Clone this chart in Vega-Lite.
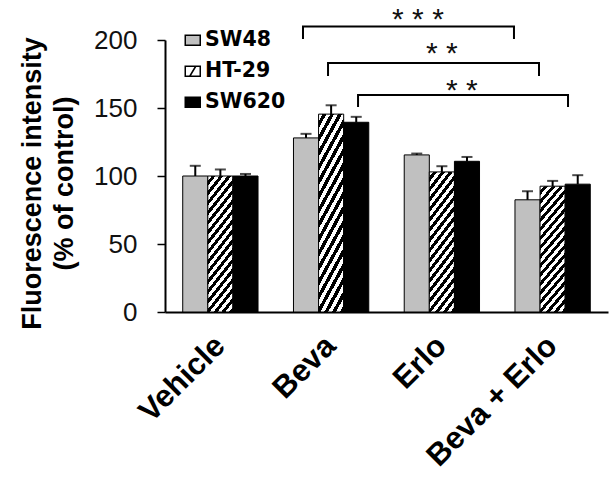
{
  "$schema": "https://vega.github.io/schema/vega-lite/v6.json",
  "width": 443,
  "height": 272,
  "autosize": "none",
  "padding": {"left": 165, "top": 40, "right": 6, "bottom": 167},
  "background": "white",
  "config": {
    "view": {"stroke": null},
    "font": "Liberation Sans"
  },
  "resolve": {"scale": {"x": "independent"}},
  "layer": [
    {
      "data": {
        "values": [
          {"category": "Vehicle", "series": "SW48", "value": 100, "upper": 107.5},
          {"category": "Vehicle", "series": "HT-29", "value": 100, "upper": 104.8},
          {"category": "Vehicle", "series": "SW620", "value": 100, "upper": 101.5},
          {"category": "Beva", "series": "SW48", "value": 128, "upper": 131},
          {"category": "Beva", "series": "HT-29", "value": 145.5, "upper": 152},
          {"category": "Beva", "series": "SW620", "value": 139.5, "upper": 143.5},
          {"category": "Erlo", "series": "SW48", "value": 115.5, "upper": 116.5},
          {"category": "Erlo", "series": "HT-29", "value": 103, "upper": 107.2},
          {"category": "Erlo", "series": "SW620", "value": 110.8, "upper": 114},
          {"category": "Beva + Erlo", "series": "SW48", "value": 82.5, "upper": 88.8},
          {"category": "Beva + Erlo", "series": "HT-29", "value": 92.5, "upper": 96.4},
          {"category": "Beva + Erlo", "series": "SW620", "value": 94, "upper": 100.6}
        ]
      },
      "encoding": {
        "x": {
          "field": "category", "type": "nominal",
          "sort": ["Vehicle", "Beva", "Erlo", "Beva + Erlo"],
          "scale": {"paddingInner": 0.32, "paddingOuter": 0.16},
          "axis": {
            "title": null,
            "labelAngle": -45,
            "labelAlign": "right",
            "labelBaseline": "middle",
            "labelFont": "Liberation Sans",
            "labelFontWeight": "bold",
            "labelFontSize": 31,
            "labelColor": "#000000",
            "labelPadding": 29,
            "ticks": false,
            "domainColor": "#000000",
            "domainWidth": 2
          }
        },
        "xOffset": {"field": "series", "type": "nominal", "sort": ["SW48", "HT-29", "SW620"], "scale": {"paddingInner": 0, "paddingOuter": 0}}
      },
      "layer": [
        {
          "mark": {"type": "bar", "stroke": "#000000", "strokeWidth": 1},
          "encoding": {
            "y": {
              "field": "value", "type": "quantitative",
              "scale": {"domain": [0, 200], "nice": false},
              "axis": {
                "title": ["Fluorescence intensity", "(% of control)"],
                "titleFont": "Liberation Sans",
                "titleFontWeight": "bold",
                "titleFontSize": 27,
                "titleLineHeight": 32,
                "titleColor": "#000000",
                "titleAngle": -90,
                "titleAlign": "center",
                "titleBaseline": "middle",
                "titleX": -133,
                "titleY": 143,
                "values": [0, 50, 100, 150, 200],
                "grid": false,
                "labelFont": "Liberation Sans",
                "labelFontSize": 26,
                "labelColor": "#111111",
                "labelPadding": 20,
                "tickSize": 8,
                "tickWidth": 1.5,
                "tickColor": "#000000",
                "domainColor": "#000000",
                "domainWidth": 2
              }
            },
            "fill": {
              "field": "series", "type": "nominal",
              "scale": {"domain": ["SW48", "HT-29", "SW620"], "range": ["#c0c0c0", "#ffffff", "#000000"]},
              "legend": {
                "title": null,
                "orient": "none",
                "legendX": 17.5,
                "legendY": -10,
                "padding": 0,
                "symbolType": "M-1.5,-1H1.5V1H-1.5Z",
                "symbolSize": 100,
                "symbolStrokeColor": "#000000",
                "symbolStrokeWidth": 1.5,
                "labelFont": "DejaVu Sans",
                "labelFontWeight": "bold",
                "labelFontSize": 20.5,
                "labelColor": "#000000",
                "labelOffset": 2,
                "rowPadding": 10,
                "encode": {
                  "symbols": {
                    "update": {
                      "shape": {"signal": "datum.label === 'HT-29' ? 'M-1.5,-1H1.5V1H-1.5Z M-0.6,1L0.6,-1' : 'M-1.5,-1H1.5V1H-1.5Z'"},
                      "stroke": {"value": "#000000"},
                      "strokeWidth": {"value": 1.5}
                    }
                  }
                }
              },
              "condition": {
                "test": "datum.series === 'HT-29'",
                "value": {
                  "gradient": "linear", "x1": 0, "y1": 0, "x2": 0.2725, "y2": 1.1696,
                  "stops": [
                    {"offset": 0, "color": "#ffffff"}, {"offset": 0.0294, "color": "#ffffff"}, {"offset": 0.0294, "color": "#000000"}, {"offset": 0.0588, "color": "#000000"},
                    {"offset": 0.0588, "color": "#ffffff"}, {"offset": 0.0882, "color": "#ffffff"}, {"offset": 0.0882, "color": "#000000"}, {"offset": 0.1176, "color": "#000000"},
                    {"offset": 0.1176, "color": "#ffffff"}, {"offset": 0.1471, "color": "#ffffff"}, {"offset": 0.1471, "color": "#000000"}, {"offset": 0.1765, "color": "#000000"},
                    {"offset": 0.1765, "color": "#ffffff"}, {"offset": 0.2059, "color": "#ffffff"}, {"offset": 0.2059, "color": "#000000"}, {"offset": 0.2353, "color": "#000000"},
                    {"offset": 0.2353, "color": "#ffffff"}, {"offset": 0.2647, "color": "#ffffff"}, {"offset": 0.2647, "color": "#000000"}, {"offset": 0.2941, "color": "#000000"},
                    {"offset": 0.2941, "color": "#ffffff"}, {"offset": 0.3235, "color": "#ffffff"}, {"offset": 0.3235, "color": "#000000"}, {"offset": 0.3529, "color": "#000000"},
                    {"offset": 0.3529, "color": "#ffffff"}, {"offset": 0.3824, "color": "#ffffff"}, {"offset": 0.3824, "color": "#000000"}, {"offset": 0.4118, "color": "#000000"},
                    {"offset": 0.4118, "color": "#ffffff"}, {"offset": 0.4412, "color": "#ffffff"}, {"offset": 0.4412, "color": "#000000"}, {"offset": 0.4706, "color": "#000000"},
                    {"offset": 0.4706, "color": "#ffffff"}, {"offset": 0.5, "color": "#ffffff"}, {"offset": 0.5, "color": "#000000"}, {"offset": 0.5294, "color": "#000000"},
                    {"offset": 0.5294, "color": "#ffffff"}, {"offset": 0.5588, "color": "#ffffff"}, {"offset": 0.5588, "color": "#000000"}, {"offset": 0.5882, "color": "#000000"},
                    {"offset": 0.5882, "color": "#ffffff"}, {"offset": 0.6176, "color": "#ffffff"}, {"offset": 0.6176, "color": "#000000"}, {"offset": 0.6471, "color": "#000000"},
                    {"offset": 0.6471, "color": "#ffffff"}, {"offset": 0.6765, "color": "#ffffff"}, {"offset": 0.6765, "color": "#000000"}, {"offset": 0.7059, "color": "#000000"},
                    {"offset": 0.7059, "color": "#ffffff"}, {"offset": 0.7353, "color": "#ffffff"}, {"offset": 0.7353, "color": "#000000"}, {"offset": 0.7647, "color": "#000000"},
                    {"offset": 0.7647, "color": "#ffffff"}, {"offset": 0.7941, "color": "#ffffff"}, {"offset": 0.7941, "color": "#000000"}, {"offset": 0.8235, "color": "#000000"},
                    {"offset": 0.8235, "color": "#ffffff"}, {"offset": 0.8529, "color": "#ffffff"}, {"offset": 0.8529, "color": "#000000"}, {"offset": 0.8824, "color": "#000000"},
                    {"offset": 0.8824, "color": "#ffffff"}, {"offset": 0.9118, "color": "#ffffff"}, {"offset": 0.9118, "color": "#000000"}, {"offset": 0.9412, "color": "#000000"},
                    {"offset": 0.9412, "color": "#ffffff"}, {"offset": 0.9706, "color": "#ffffff"}, {"offset": 0.9706, "color": "#000000"}, {"offset": 1, "color": "#000000"}
                  ]
                }
              }
            }
          }
        },
        {
          "mark": {"type": "rule", "color": "#000000", "strokeWidth": 2},
          "encoding": {
            "y": {"field": "value", "type": "quantitative", "scale": {"domain": [0, 200], "nice": false}},
            "y2": {"field": "upper"}
          }
        },
        {
          "mark": {"type": "tick", "color": "#000000", "size": 11, "thickness": 2},
          "encoding": {
            "y": {"field": "upper", "type": "quantitative", "scale": {"domain": [0, 200], "nice": false}}
          }
        }
      ]
    },
    {
      "data": {
        "values": [
          {"id": 1, "ord": 1, "bx": 1.246, "by": 200.8},
          {"id": 1, "ord": 2, "bx": 1.246, "by": 209.9},
          {"id": 1, "ord": 3, "bx": 3.151, "by": 209.9},
          {"id": 1, "ord": 4, "bx": 3.151, "by": 200.8},
          {"id": 2, "ord": 1, "bx": 1.472, "by": 173.5},
          {"id": 2, "ord": 2, "bx": 1.472, "by": 183},
          {"id": 2, "ord": 3, "bx": 3.377, "by": 183},
          {"id": 2, "ord": 4, "bx": 3.377, "by": 173.5},
          {"id": 3, "ord": 1, "bx": 1.743, "by": 150.7},
          {"id": 3, "ord": 2, "bx": 1.743, "by": 159.5},
          {"id": 3, "ord": 3, "bx": 3.639, "by": 159.5},
          {"id": 3, "ord": 4, "bx": 3.639, "by": 150.7}
        ]
      },
      "mark": {"type": "line", "color": "#000000", "strokeWidth": 2},
      "encoding": {
        "x": {"field": "bx", "type": "quantitative", "scale": {"domain": [0, 4], "nice": false, "zero": false}, "axis": null},
        "y": {"field": "by", "type": "quantitative", "scale": {"domain": [0, 200], "nice": false}},
        "detail": {"field": "id"},
        "order": {"field": "ord"}
      }
    },
    {
      "data": {
        "values": [
          {"label": "* * *", "bx": 2.284, "by": 219.2},
          {"label": "* *", "bx": 2.5, "by": 194.2},
          {"label": "* *", "bx": 2.68, "by": 166.9}
        ]
      },
      "mark": {"type": "text", "font": "Liberation Sans", "fontSize": 30, "color": "#111111", "align": "center", "baseline": "middle", "dy": 6},
      "encoding": {
        "x": {"field": "bx", "type": "quantitative", "scale": {"domain": [0, 4], "nice": false, "zero": false}, "axis": null},
        "y": {"field": "by", "type": "quantitative", "scale": {"domain": [0, 200], "nice": false}},
        "text": {"field": "label"}
      }
    }
  ]
}
